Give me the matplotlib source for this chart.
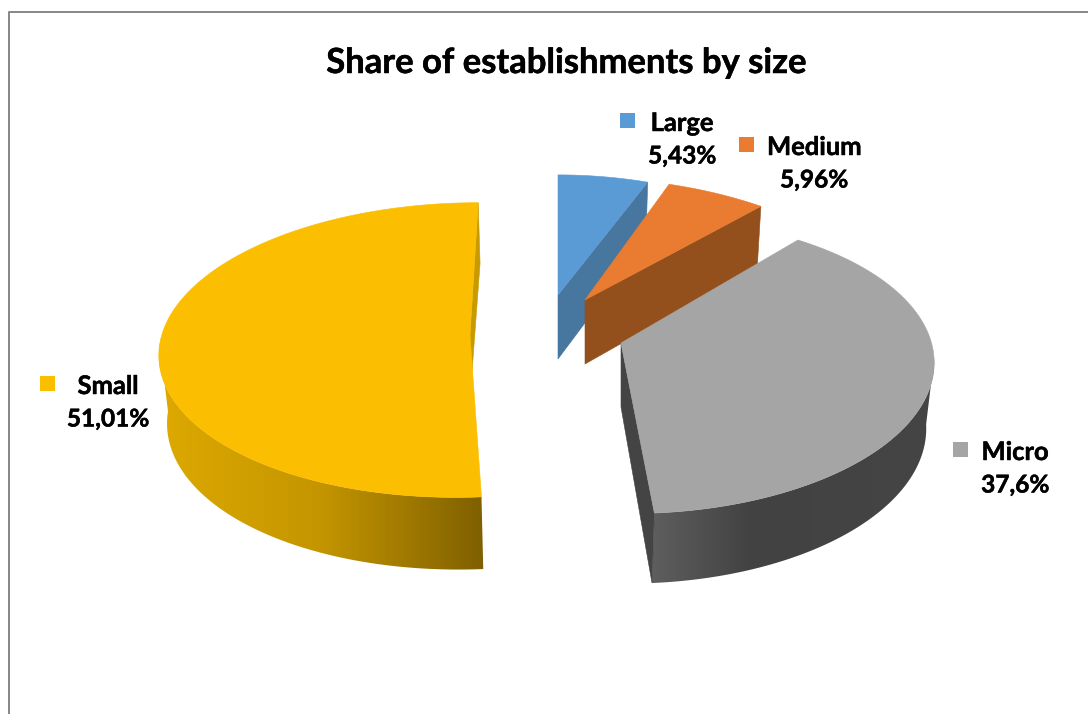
"""Share of establishments by size, drawn as an exploded 3D-look pie."""

import matplotlib

matplotlib.use("Agg")
import matplotlib.patheffects as pe
import matplotlib.pyplot as plt
import numpy as np
from matplotlib.colors import LinearSegmentedColormap
from matplotlib.patches import Polygon, Rectangle

plt.rcParams["font.family"] = ["Lato", "DejaVu Sans"]

TITLE = "Share of establishments by size"
sizes = ["Large", "Medium", "Micro", "Small"]
shares = [5.43, 5.96, 37.6, 51.01]

top_colors = ["#5B9BD5", "#E97C30", "#A5A5A5", "#FBBE00"]
cut_colors = ["#47769F", "#93501D", "#444444", "#C99A00"]
wall_stops = [
    None,
    None,
    [(0.0, "#5E5E5E"), (0.35, "#424242"), (1.0, "#454545")],
    [(0.0, "#DDA900"), (0.5, "#C49500"), (1.0, "#7F6000")],
]

# Each slice has its own projected ellipse: centre, radii, shear, hub and wall tweaks
layout = {
    "Large": dict(cx=558, cy=333, rx=335, ry=200, shear=0.0, hub=(558, 295), depth=64.5, dx=0),
    "Medium": dict(cx=581, cy=317, rx=329, ry=176, shear=0.0, hub=(585, 300), depth=64.5, dx=0),
    "Micro": dict(cx=637, cy=326.5, rx=288, ry=137.5, shear=-0.04, hub=(621, 343), depth=64.5, dx=-2),
    "Small": dict(cx=470, cy=311, rx=297, ry=137, shear=-0.076, hub=(470, 335), depth=66.5, dx=2),
}
label_pos = {
    "Large": (682, 123, 620, 113),
    "Medium": (814, 147, 739, 137),
    "Micro": (1015, 452, 953, 442),
    "Small": (108, 386, 40, 376),
}

PERSP = 0.265
HUB_DEPTH = 64
DRAW_ORDER = ["Large", "Medium", "Small", "Micro"]
HEAVY = [pe.withStroke(linewidth=0.35, foreground="black")]


def rim(g, theta):
    """Upper rim point of a slice; theta runs clockwise from the top."""
    w = 1 + PERSP * np.cos(theta)
    dy = -g["ry"] * np.cos(theta) / w
    x = g["cx"] + g["rx"] * np.sin(theta) / w + g["shear"] * dy
    return x, g["cy"] + dy


def lower_rim(g, theta):
    x, y = rim(g, theta)
    xl = g["cx"] + (x - g["cx"]) * 0.98 + g["dx"]
    return xl, y + g["depth"] * (1 - 0.085 * np.cos(theta))


def draw_slice(ax, name, start, stop, top, cut, stops):
    g = layout[name]
    hub = np.array(g["hub"], dtype=float)
    hub_low = hub + [0, HUB_DEPTH]

    # curved outer wall, a horizontal gradient clipped to the wall outline;
    # it stops at the widest point of the rim so the closing edge is the silhouette
    if stops is not None:
        th = np.linspace(start, stop, 240)
        th = th[np.cos(th) < -0.22]
        xt, yt = rim(g, th)
        xb, yb = lower_rim(g, th)
        outline = np.column_stack([np.r_[xt, xb[::-1]], np.r_[yt, yb[::-1]]])
        wall = Polygon(outline, closed=True, fc="none", ec="none", transform=ax.transData)
        ax.add_patch(wall)
        x0, x1 = outline[:, 0].min(), outline[:, 0].max()
        y0, y1 = outline[:, 1].min(), outline[:, 1].max()
        cmap = LinearSegmentedColormap.from_list(name, stops)
        im = ax.imshow(np.linspace(0, 1, 256)[None, :], cmap=cmap, vmin=0, vmax=1,
                       extent=(x0, x1, y1, y0), aspect="auto", interpolation="bilinear")
        im.set_clip_path(wall)

    # flat cut face along the clockwise end of the slice
    p_top = rim(g, stop)
    p_low = lower_rim(g, stop)
    ax.add_patch(Polygon([p_top, hub, hub_low, p_low], closed=True, fc=cut, ec=cut, lw=0.4))

    # top face
    th = np.linspace(start, stop, 200)
    xs, ys = rim(g, th)
    pts = np.column_stack([np.r_[hub[0], xs], np.r_[hub[1], ys]])
    ax.add_patch(Polygon(pts, closed=True, fc=top, ec=top, lw=0.4))


fig = plt.figure(figsize=(10.88, 7.14), dpi=100)
ax = fig.add_axes([0, 0, 1, 1])

# chart frame: only the left and top edges fall inside the crop
ax.plot([8.5, 8.5, 1088], [714, 12, 12], color="#868686", lw=1.4)

ends = np.cumsum(shares) / np.sum(shares) * 2 * np.pi
starts = np.r_[0, ends[:-1]]
for name in DRAW_ORDER:
    i = sizes.index(name)
    draw_slice(ax, name, starts[i], ends[i], top_colors[i], cut_colors[i], wall_stops[i])

for i, name in enumerate(sizes):
    tx, ty, sx, sy = label_pos[name]
    ax.add_patch(Rectangle((sx, sy), 15, 15, fc=top_colors[i], ec="none"))
    ax.text(tx, ty, name, ha="center", va="center", fontsize=18.4, fontweight="bold",
            color="black", path_effects=HEAVY)
    ax.text(tx, ty + 33, f"{shares[i]}%".replace(".", ","), ha="center", va="center",
            fontsize=17.6, fontweight="bold", color="black", path_effects=HEAVY)

ax.text(567, 63, TITLE, ha="center", va="center", fontsize=24.9, fontweight="bold",
        color="black", path_effects=HEAVY)

ax.set_xlim(0, 1088)
ax.set_ylim(714, 0)
ax.axis("off")

fig.savefig("out.png", dpi=100)
